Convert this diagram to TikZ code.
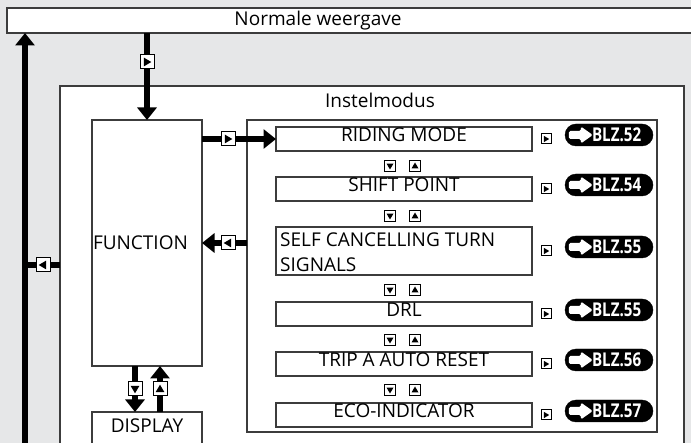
\documentclass[tikz,border=0pt]{standalone}
\usepackage{fontspec}
\setmainfont{Open Sans}
\newfontfamily\pillfont[FakeStretch=0.8]{Open Sans}
\usetikzlibrary{arrows.meta,shapes.misc,calc}
\definecolor{bg}{HTML}{E6E7E8}
\definecolor{edge}{HTML}{3C3C3C}
\tikzset{
  box/.style={draw=edge, line width=1.3pt, fill=white, inner sep=0pt, outer sep=0pt},
  txtfont/.style={font=\fontsize{19}{25}\selectfont},
  lbl/.style={inner sep=0pt, txtfont},
  menuitem/.style={box, minimum width=256pt, minimum height=24pt, txtfont, text height=13pt, text depth=7pt},
  bigarrow/.style={line width=6.5pt, -{Triangle[width=19pt,length=12.5pt]}},
  bigline/.style={line width=6.5pt},
  keybase/.style={draw=black, fill=white, line width=1pt, inner sep=0pt},
  keybig/.style={keybase, minimum size=14pt, /utils/exec={\def\ts{4.3}}},
  keysmall/.style={keybase, minimum size=11pt, /utils/exec={\def\ts{3.5}}},
  keytiny/.style={keybase, minimum size=10pt, /utils/exec={\def\ts{3.2}}},
  tR/.style={path picture={\fill[black] ([shift={(-0.7*\ts pt,\ts pt)}]path picture bounding box.center) -- ([shift={(-0.7*\ts pt,-\ts pt)}]path picture bounding box.center) -- ([shift={(\ts pt,0pt)}]path picture bounding box.center) -- cycle;}},
  tL/.style={path picture={\fill[black] ([shift={(0.7*\ts pt,\ts pt)}]path picture bounding box.center) -- ([shift={(0.7*\ts pt,-\ts pt)}]path picture bounding box.center) -- ([shift={(-\ts pt,0pt)}]path picture bounding box.center) -- cycle;}},
  tD/.style={path picture={\fill[black] ([shift={(-\ts pt,0.7*\ts pt)}]path picture bounding box.center) -- ([shift={(\ts pt,0.7*\ts pt)}]path picture bounding box.center) -- ([shift={(0pt,-\ts pt)}]path picture bounding box.center) -- cycle;}},
  tU/.style={path picture={\fill[black] ([shift={(-\ts pt,-0.7*\ts pt)}]path picture bounding box.center) -- ([shift={(\ts pt,-0.7*\ts pt)}]path picture bounding box.center) -- ([shift={(0pt,\ts pt)}]path picture bounding box.center) -- cycle;}},
  pill/.style={rounded rectangle, fill=black, draw=black, minimum width=88pt, minimum height=22pt, inner sep=0pt},
  pilltext/.style={inner sep=0pt, text=white, font=\pillfont\bfseries\fontsize{19}{19}\selectfont},
}
\newcommand{\blzpill}[4]{%
  \node[pill] (#1) at (#2,#3) {};
  \node[pilltext, anchor=west] (#1t) at ($(#1.west)+(27,0)$) {BLZ.#4};
  \fill[white, rounded corners=1.5pt] ($(#1.west)+(4,-4)$) -- ($(#1.west)+(16,-4)$) -- ($(#1.west)+(16,-8.5)$) -- ($(#1.west)+(28,0)$) -- ($(#1.west)+(16,8.5)$) -- ($(#1.west)+(16,4)$) -- ($(#1.west)+(4,4)$) -- cycle;
}
\begin{document}
\begin{tikzpicture}[x=1pt,y=-1pt]
\useasboundingbox[fill=bg] (0,0) rectangle (691,443);
% top bar
\node[box, anchor=north west, minimum width=700pt, minimum height=25pt] (normal) at (7,8) {};
\node[lbl] (normaltxt) at (318,20.5) {Normale weergave};
% outer settings box
\node[box, anchor=north west, minimum width=624pt, minimum height=380pt] (outer) at (60,86) {};
\node[lbl] (insteltxt) at (380,100) {Instelmodus};
\node[box, anchor=north west, minimum width=410pt, minimum height=312pt] (inner) at (247,120) {};
% function & display
\node[box, anchor=north west, minimum width=110pt, minimum height=246pt, txtfont, align=left, text width=108pt] (fun) at (92,120) {FUNCTION};
\node[box, anchor=north west, minimum width=110pt, minimum height=33pt, txtfont, text height=13pt, text depth=4pt] (disp) at (92,412) {DISPLAY};
% menu items
\node[menuitem, anchor=north west] (rm) at (276,127) {RIDING MODE};
\node[menuitem, anchor=north west] (sp) at (276,177) {SHIFT POINT};
\node[menuitem, anchor=north west, minimum height=48pt] (sc) at (276,227) {};
\node[lbl, anchor=base west] (sct1) at (280,246.5) {SELF CANCELLING TURN};
\node[lbl, anchor=base west] (sct2) at (280,271.5) {SIGNALS};
\node[menuitem, anchor=north west] (drl) at (276,302) {DRL};
\node[menuitem, anchor=north west] (trip) at (276,352) {TRIP A AUTO RESET};
\node[menuitem, anchor=north west] (eco) at (276,403) {ECO-INDICATOR};
% connectors
\coordinate (retbot) at (25,460);
\coordinate (retjoin) at (25,265);
\draw[bigline] (retjoin -| outer.west) -- (retjoin);
\draw[bigarrow] (retbot) -- (retbot |- normal.south);
\draw[bigarrow] (normal.south -| fun.north) -- (fun.north);
\draw[bigarrow] (fun.east |- rm.west) -- (rm.west);
\draw[bigarrow] (inner.west |- fun.east) -- (fun.east);
\draw[bigarrow] ([xshift=-12pt]fun.south) -- ([xshift=-12pt]disp.north);
\draw[bigarrow] ([xshift=13pt]disp.north) -- ([xshift=13pt]fun.south);
% keys on connectors
\node[keybig, tR] (k1) at (147,62) {};
\node[keybig, tR] (k2) at (228,139) {};
\node[keybig, tL] (k3) at (228,243) {};
\node[keybig, tL] (k4) at (43,265) {};
\node[keybig, tD] (k5) at (135,389) {};
\node[keybig, tU] (k6) at (160,389) {};
% up/down keys between menu items
\foreach \yy [count=\i] in {166,216,290,340,390} {
  \node[keysmall, tD] (kd\i) at (390,\yy) {};
  \node[keysmall, tU] (ku\i) at (415,\yy) {};
}
% right keys and page references
\foreach \nm in {rm,sp,sc,drl,trip,eco} {
  \node[keytiny, tR] (kr\nm) at (546,0 |- \nm.east) {};
}
\blzpill{p1}{609}{135}{52}
\blzpill{p2}{609}{185}{54}
\blzpill{p3}{609}{247}{55}
\blzpill{p4}{609}{310}{55}
\blzpill{p5}{609}{360}{56}
\blzpill{p6}{609}{411}{57}
\end{tikzpicture}
\end{document}
